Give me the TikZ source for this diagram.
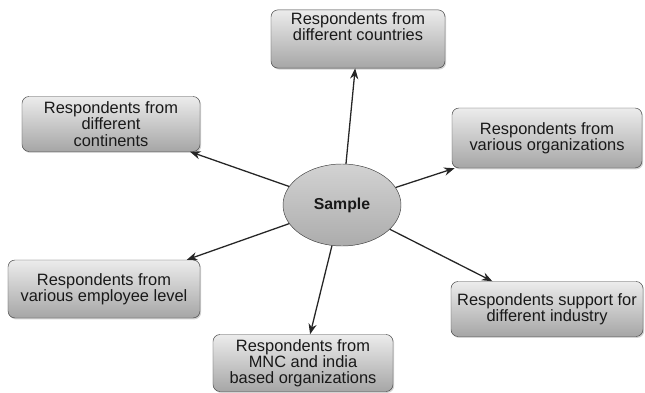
\documentclass[tikz,border=0pt]{standalone}
\usepackage{fontspec}
\setmainfont{Liberation Sans}
\usetikzlibrary{arrows.meta,shapes.geometric,shadows}
\begin{document}
\begin{tikzpicture}[x=0.03cm, y=-0.03cm,
    group/.style={draw=gray!50!black, rectangle, rounded corners=6pt, top color=gray!15, bottom color=gray!70, align=center, text=black!90, font=\fontsize{14}{13.8}\selectfont, inner sep=2pt, drop shadow={shadow xshift=1pt, shadow yshift=-1.2pt, opacity=0.35}},
    core/.style={draw=gray!50!black, ellipse, top color=gray!35, bottom color=gray!65, minimum width=3.54cm, minimum height=2.46cm, font=\fontsize{13.5}{14}\selectfont\bfseries, text=black!90},
    link/.style={-{Stealth[length=9pt,width=7pt]}, line width=1.1pt, black!85}
]
\useasboundingbox (0,0) rectangle (645,392);

% centre
\node[core] (sample) at (342,205) {Sample};

% groupes de repondants
\node[group, minimum width=5.22cm, minimum height=1.74cm] (countries) at (358,39) {Respondents from\\different countries\\[8pt]};
\node[group, minimum width=5.34cm, minimum height=1.65cm] (continents) at (111,124) {Respondents from\\different\\continents};
\node[group, minimum width=5.7cm, minimum height=1.8cm] (orgs) at (547,138) {Respondents from\\various organizations};
\node[group, minimum width=5.76cm, minimum height=1.74cm] (level) at (104,289) {Respondents from\\various employee level};
\node[group, minimum width=5.76cm, minimum height=1.65cm] (industry) at (547,309) {Respondents support for\\different industry};
\node[group, minimum width=5.4cm, minimum height=1.71cm] (mnc) at (303,363) {Respondents from\\MNC and india\\based organizations};

% fleches
\foreach \dst in {countries, continents, orgs, level, industry, mnc} {
    \draw[link] (sample) -- (\dst);
}
\end{tikzpicture}
\end{document}
